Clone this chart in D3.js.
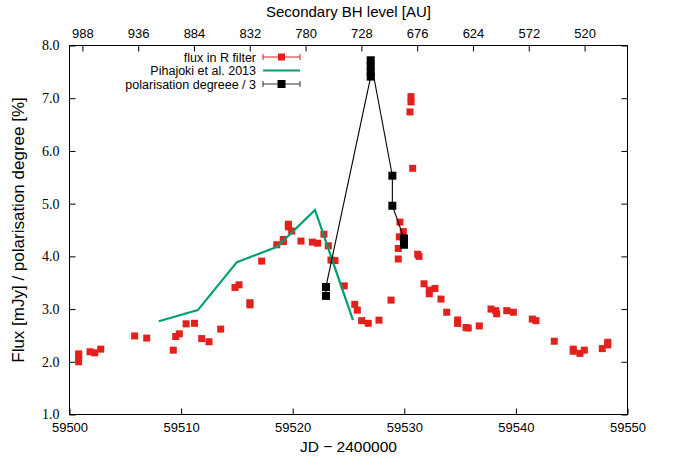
<!DOCTYPE html>
<html>
<head>
<meta charset="utf-8">
<script src="https://cdn.jsdelivr.net/npm/d3@7"></script>
<style>
  body { margin: 0; background: #fff; }
  text { font-family: "Liberation Sans", Arial, sans-serif; }
</style>
</head>
<body>
<script>
// flux in R filter
const fluxJD = [59500.82, 59500.82, 59500.82, 59501.84, 59502.26, 59502.80, 59505.84, 59506.92,
  59509.30, 59509.52, 59509.84, 59510.45, 59511.20, 59511.85, 59512.50, 59513.55, 59514.83, 59515.19,
  59516.17, 59516.17, 59517.22, 59518.57, 59519.16, 59519.16, 59519.61, 59519.61, 59519.91, 59520.74,
  59521.76, 59522.24, 59522.80, 59523.19, 59523.43, 59523.79, 59524.62, 59525.56, 59525.79, 59526.18,
  59526.77, 59527.73, 59528.81, 59529.46, 59529.46, 59529.55, 59529.61, 59529.91, 59530.60, 59530.60,
  59530.51, 59530.75, 59531.20, 59531.32, 59531.77, 59532.24, 59532.24, 59532.75, 59533.29, 59533.80,
  59534.78, 59534.78, 59535.53, 59535.73, 59536.72, 59537.77, 59538.19, 59538.28, 59539.18, 59539.77,
  59541.47, 59541.80, 59543.44, 59545.14, 59545.14, 59545.74, 59546.13, 59547.74, 59548.23, 59548.23];
const fluxVal = [2.15, 2.12, 2.00, 2.19, 2.17, 2.24, 2.49, 2.45,
  2.22, 2.48, 2.53, 2.72, 2.73, 2.44, 2.38, 2.62, 3.41, 3.46,
  3.12, 3.08, 3.91, 4.22, 4.28, 4.32, 4.61, 4.56, 4.48, 4.29,
  4.27, 4.25, 4.42, 4.20, 3.93, 3.92, 3.44, 3.09, 2.98, 2.78,
  2.73, 2.79, 3.17, 3.95, 4.15, 4.37, 4.65, 4.47, 7.03, 6.93,
  6.74, 5.67, 4.04, 4.00, 3.48, 3.36, 3.29, 3.39, 3.19, 2.94,
  2.79, 2.73, 2.65, 2.64, 2.68, 3.00, 2.97, 2.91, 2.97, 2.94,
  2.81, 2.78, 2.39, 2.24, 2.20, 2.16, 2.22, 2.25, 2.32, 2.37];
const fluxErr = [0.04, 0.04, 0.04, 0.03, 0.03, 0.03, 0.03, 0.03,
  0.03, 0.03, 0.03, 0.04, 0.04, 0.03, 0.03, 0.03, 0.03, 0.03,
  0.05, 0.05, 0.03, 0.03, 0.03, 0.03, 0.04, 0.04, 0.03, 0.03,
  0.03, 0.03, 0.03, 0.03, 0.03, 0.03, 0.03, 0.03, 0.03, 0.03,
  0.03, 0.03, 0.03, 0.03, 0.03, 0.03, 0.03, 0.03, 0.04, 0.04,
  0.04, 0.03, 0.03, 0.03, 0.03, 0.04, 0.04, 0.03, 0.03, 0.03,
  0.06, 0.06, 0.04, 0.04, 0.03, 0.03, 0.03, 0.03, 0.03, 0.03,
  0.03, 0.03, 0.03, 0.04, 0.04, 0.03, 0.03, 0.03, 0.04, 0.04];

// Pihajoki et al. 2013 model
const modelJD = [59508.0, 59511.5, 59515.0, 59518.6, 59522.0, 59525.4];
const modelVal = [2.77, 2.98, 3.89, 4.18, 4.88, 2.79];

// polarisation degree / 3
const polJD = [59522.98, 59522.98, 59526.99, 59526.99, 59526.99, 59526.99, 59528.93, 59528.93, 59529.97, 59529.97, 59529.97];
const polVal = [3.25, 3.42, 7.41, 7.50, 7.61, 7.72, 5.53, 4.96, 4.34, 4.32, 4.22];
const polErr = [0.04, 0.04, 0.05, 0.05, 0.05, 0.05, 0.05, 0.05, 0.05, 0.05, 0.05];

const xTicks = [59500, 59510, 59520, 59530, 59540, 59550];
const yTicks = [1, 2, 3, 4, 5, 6, 7, 8];
const x2Ticks = [988, 936, 884, 832, 780, 728, 676, 624, 572, 520];

const width = 673, height = 456;
const plotL = 69.5, plotR = 627.5, plotT = 45.5, plotB = 414.5;
const red = "#e3201b", green = "#009e73";

const svg = d3.select("body").append("svg")
  .attr("width", width)
  .attr("height", height);

const x = d3.scaleLinear().domain([59500, 59550]).range([plotL, plotR]);
const x2 = d3.scaleLinear().domain([1000, 480]).range([plotL, plotR]);
const y = d3.scaleLinear().domain([1, 8]).range([plotB, plotT]);

// axes, gnuplot style ticks pointing inward
const gx = svg.append("g")
  .attr("transform", `translate(0,${plotB})`)
  .call(d3.axisBottom(x).tickValues(xTicks).tickFormat(d3.format("d")).tickSizeInner(-6).tickSizeOuter(0).tickPadding(8));

const gx2 = svg.append("g")
  .attr("transform", `translate(0,${plotT})`)
  .call(d3.axisTop(x2).tickValues(x2Ticks).tickFormat(d3.format("d")).tickSizeInner(-6).tickSizeOuter(0).tickPadding(8));

const gy = svg.append("g")
  .attr("transform", `translate(${plotL},0)`)
  .call(d3.axisLeft(y).tickValues(yTicks).tickFormat(d3.format(".1f")).tickSizeInner(-6).tickSizeOuter(0).tickPadding(10));

const gy2 = svg.append("g")
  .attr("transform", `translate(${plotR},0)`)
  .call(d3.axisRight(y).tickValues(yTicks).tickFormat("").tickSizeInner(-6).tickSizeOuter(0));

[gx, gx2, gy, gy2].forEach(g => {
  g.select(".domain").remove();
  g.selectAll(".tick line").attr("stroke", "#000");
  g.selectAll("text").attr("fill", "#000").style("font-size", "13px");
});
gy.selectAll("text").style("font-family", "'Liberation Serif', 'Times New Roman', serif").style("font-size", "14px");

svg.append("rect")
  .attr("x", plotL).attr("y", plotT)
  .attr("width", plotR - plotL).attr("height", plotB - plotT)
  .attr("fill", "none").attr("stroke", "#000").attr("stroke-width", 1);

// titles
svg.append("text")
  .attr("x", (plotL + plotR) / 2).attr("y", 452)
  .attr("text-anchor", "middle").style("font-size", "15.5px")
  .text("JD − 2400000");

svg.append("text")
  .attr("x", (plotL + plotR) / 2).attr("y", 17)
  .attr("text-anchor", "middle").style("font-size", "15px")
  .text("Secondary BH level [AU]");

svg.append("text")
  .attr("transform", `translate(24,${(plotT + plotB) / 2}) rotate(-90)`)
  .attr("text-anchor", "middle").style("font-size", "17px")
  .text("Flux [mJy] / polarisation degree [%]");

// flux points
const flux = fluxJD.map((d, i) => ({ jd: d, v: fluxVal[i], e: fluxErr[i] }));

const errG = svg.append("g").attr("stroke", red).attr("stroke-opacity", 0.5).attr("stroke-width", 1);
flux.forEach(d => {
  errG.append("line").attr("x1", x(d.jd)).attr("x2", x(d.jd)).attr("y1", y(d.v - d.e)).attr("y2", y(d.v + d.e));
  errG.append("line").attr("x1", x(d.jd) - 3).attr("x2", x(d.jd) + 3).attr("y1", y(d.v - d.e)).attr("y2", y(d.v - d.e));
  errG.append("line").attr("x1", x(d.jd) - 3).attr("x2", x(d.jd) + 3).attr("y1", y(d.v + d.e)).attr("y2", y(d.v + d.e));
});

svg.append("g").selectAll("rect")
  .data(flux)
  .enter().append("rect")
  .attr("x", d => x(d.jd) - 3.5)
  .attr("y", d => y(d.v) - 3.5)
  .attr("width", 7).attr("height", 7)
  .attr("fill", red);

// model line
const model = modelJD.map((d, i) => ({ jd: d, v: modelVal[i] }));
svg.append("path")
  .datum(model)
  .attr("d", d3.line().x(d => x(d.jd)).y(d => y(d.v)))
  .attr("fill", "none").attr("stroke", green).attr("stroke-width", 2.2);

// polarisation
const pol = polJD.map((d, i) => ({ jd: d, v: polVal[i], e: polErr[i] }));
svg.append("path")
  .datum(pol)
  .attr("d", d3.line().x(d => x(d.jd)).y(d => y(d.v)))
  .attr("fill", "none").attr("stroke", "#000").attr("stroke-width", 1.1);

const perr = svg.append("g").attr("stroke", "#555").attr("stroke-width", 1);
pol.forEach(d => {
  perr.append("line").attr("x1", x(d.jd)).attr("x2", x(d.jd)).attr("y1", y(d.v - d.e)).attr("y2", y(d.v + d.e));
});

svg.append("g").selectAll("rect")
  .data(pol)
  .enter().append("rect")
  .attr("x", d => x(d.jd) - 4)
  .attr("y", d => y(d.v) - 4)
  .attr("width", 8).attr("height", 8)
  .attr("fill", "#000");

// legend
const legend = [
  { label: "flux in R filter", type: "err", color: red, size: 7 },
  { label: "Pihajoki et al. 2013", type: "line", color: green },
  { label: "polarisation degreee / 3", type: "err", color: "#000", size: 8 }
];
const lg = svg.append("g");
legend.forEach((d, i) => {
  const cy = 57 + i * 13.5;
  lg.append("text")
    .attr("x", 256).attr("y", cy + 4.5)
    .attr("text-anchor", "end").style("font-size", "12.5px")
    .text(d.label);
  if (d.type === "line") {
    lg.append("line").attr("x1", 263).attr("x2", 300).attr("y1", cy).attr("y2", cy)
      .attr("stroke", d.color).attr("stroke-width", 2.2);
  } else {
    const c = d.color === red ? red : "#333";
    lg.append("line").attr("x1", 263).attr("x2", 300).attr("y1", cy).attr("y2", cy).attr("stroke", c).attr("stroke-width", 1);
    lg.append("line").attr("x1", 263).attr("x2", 263).attr("y1", cy - 3).attr("y2", cy + 3).attr("stroke", c);
    lg.append("line").attr("x1", 300).attr("x2", 300).attr("y1", cy - 3).attr("y2", cy + 3).attr("stroke", c);
    lg.append("rect").attr("x", 281.5 - d.size / 2).attr("y", cy - d.size / 2)
      .attr("width", d.size).attr("height", d.size).attr("fill", d.color);
  }
});
</script>
</body>
</html>
